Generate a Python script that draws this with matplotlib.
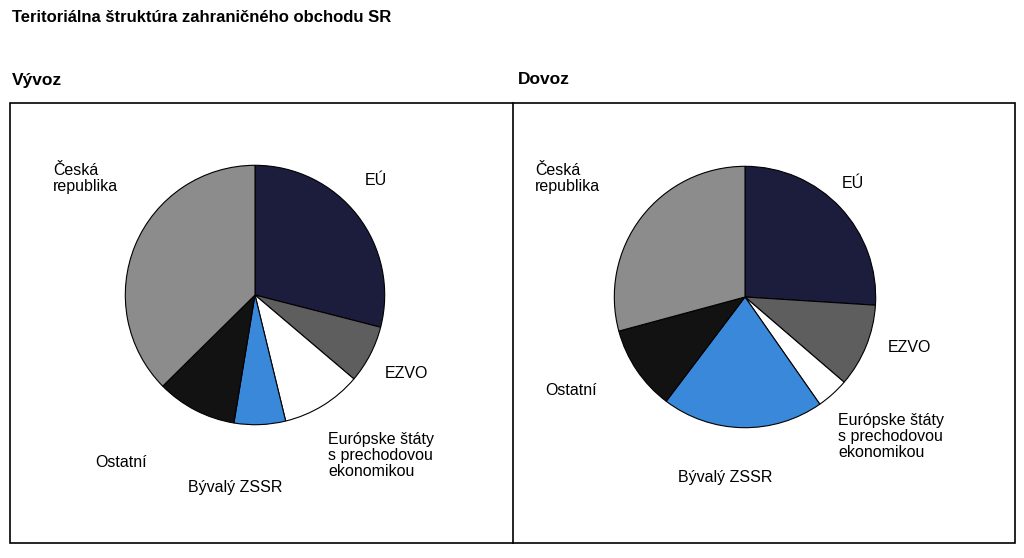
import matplotlib.pyplot as plt
from matplotlib.patches import Rectangle

labels = ["EÚ", "EZVO", "Európske štáty\ns prechodovou\nekonomikou", "Bývalý ZSSR", "Ostatní", "Česká\nrepublika"]
vyvoz = [29.0, 7.2, 10.0, 6.4, 10.0, 37.4]
dovoz = [26.0, 10.3, 4.0, 20.0, 10.5, 29.2]
colors = ["#1c1c3c", "#5e5e5e", "#ffffff", "#3a88da", "#121212", "#8c8c8c"]

W, H = 1024, 558
fig = plt.figure(figsize=(W / 100, H / 100), dpi=100)
plt.rcParams['font.family'] = ['Liberation Sans', 'DejaVu Sans']

fig.text(12 / W, 1 - 18 / H, "Teritoriálna štruktúra zahraničného obchodu SR",
         fontsize=12, fontweight='bold', va='center')
fig.text(12 / W, 1 - 80 / H, "Vývoz", fontsize=12.5, fontweight='bold', va='center')
fig.text(518 / W, 1 - 80 / H, "Dovoz", fontsize=12.5, fontweight='bold', va='center')
fig.patches.append(Rectangle((10 / W, 1 - 543 / H), 1005 / W, 440 / H, transform=fig.transFigure,
                             fill=False, ec='black', lw=1.2))
fig.lines.append(plt.Line2D([513 / W, 513 / W], [1 - 543 / H, 1 - 103 / H], transform=fig.transFigure,
                            color='black', lw=1.2))


def draw(cx, cy, r, vals, pos):
    ax = fig.add_axes([(cx - r) / W, 1 - (cy + r) / H, 2 * r / W, 2 * r / H])
    ax.pie(vals, colors=colors, startangle=90, counterclock=False,
           wedgeprops=dict(edgecolor='black', linewidth=0.8))
    ax.set_xlim(-1.01, 1.01)
    ax.set_ylim(-1.01, 1.01)
    ax.set_aspect('equal')
    ax.axis('off')
    for lab, (x, y) in zip(labels, pos):
        fig.text(x / W, 1 - y / H, lab, fontsize=11.5, va='top', ha='left', linespacing=1.1)


draw(255, 295, 131, vyvoz,
     [(365, 173), (385, 366), (328, 432), (188, 480), (95, 455), (53, 163)])
draw(745, 297, 132, dovoz,
     [(842, 176), (888, 340), (838, 413), (678, 470), (545, 383), (535, 163)])

fig.savefig("out.png", dpi=100)
